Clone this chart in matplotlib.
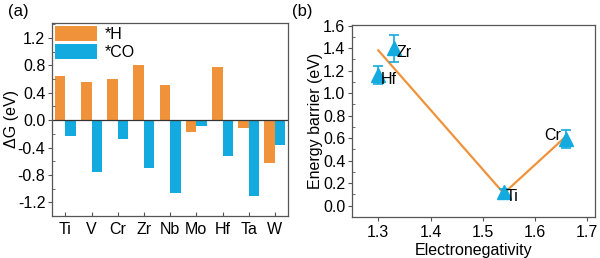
import matplotlib
matplotlib.use("Agg")
import matplotlib.pyplot as plt
from matplotlib.ticker import MultipleLocator
import numpy as np

plt.rcParams['font.family'] = ['Liberation Sans', 'DejaVu Sans']

# Panel (a) data
metals = ["Ti", "V", "Cr", "Zr", "Nb", "Mo", "Hf", "Ta", "W"]
dG_H = [0.65, 0.56, 0.60, 0.81, 0.52, -0.18, 0.77, -0.11, -0.62]
dG_CO = [-0.23, -0.76, -0.28, -0.70, -1.06, -0.09, -0.52, -1.11, -0.37]
yticks_a = [-1.2, -0.8, -0.4, 0.0, 0.4, 0.8, 1.2]

# Panel (b) data
en_names = ["Hf", "Zr", "Ti", "Cr"]
en_x = [1.30, 1.33, 1.54, 1.66]
barrier = [1.16, 1.40, 0.12, 0.59]
barrier_err = [0.08, 0.12, 0.03, 0.08]
fit_x = [1.30, 1.54, 1.66]
fit_y = [1.38, 0.11, 0.62]
xticks_b = [1.3, 1.4, 1.5, 1.6, 1.7]
yticks_b = [0.0, 0.2, 0.4, 0.6, 0.8, 1.0, 1.2, 1.4, 1.6]

ORANGE = '#F0923A'
BLUE = '#12AADF'
SPINE = '#555555'
FS = 11.5

fig = plt.figure(figsize=(6.0, 2.58), dpi=100)
axa = fig.add_axes([0.087, 0.163, 0.393, 0.748])
axb = fig.add_axes([0.587, 0.159, 0.405, 0.744])

x = np.arange(len(metals))
w = 0.4
axa.bar(x - w / 2, dG_H, w, color=ORANGE, label='*H')
axa.bar(x + w / 2, dG_CO, w, color=BLUE, label='*CO')
axa.axhline(0, color='#333333', lw=0.9)
axa.set_xlim(-0.5, 8.5)
axa.set_ylim(-1.40, 1.42)
axa.set_xticks(x)
axa.set_xticklabels(metals)
axa.set_yticks(yticks_a)
axa.set_yticklabels([f"{v:.1f}" for v in yticks_a])
axa.yaxis.set_minor_locator(MultipleLocator(0.2))
axa.set_ylabel('ΔG (eV)', fontsize=FS, labelpad=-1)
axa.tick_params(axis='x', direction='in', length=3, labelsize=FS, color=SPINE, pad=4)
axa.tick_params(axis='y', direction='out', length=3, labelsize=FS, color=SPINE, pad=2)
axa.tick_params(axis='y', which='minor', direction='in', length=2, color=SPINE)
leg = axa.legend(loc='upper left', bbox_to_anchor=(0.012, 0.985), frameon=False,
                 fontsize=FS, handlelength=2.6, handleheight=1.1, borderpad=0,
                 borderaxespad=0, labelspacing=0.1, handletextpad=0.5)
for s in axa.spines.values():
    s.set_color(SPINE)
    s.set_linewidth(0.9)

# Panel (b)
axb.plot(fit_x, fit_y, color=ORANGE, lw=1.6, zorder=2)
axb.errorbar(en_x, barrier, yerr=barrier_err, fmt='^', color=BLUE, ms=10,
             capsize=3.5, elinewidth=1.2, capthick=1.2, zorder=3)
offsets = {"Hf": (0.004, -0.04, 'left'), "Zr": (0.004, -0.04, 'left'),
           "Ti": (0.004, -0.04, 'left'), "Cr": (-0.01, 0.03, 'right')}
for n, xx, yy in zip(en_names, en_x, barrier):
    dx, dy, ha = offsets[n]
    axb.text(xx + dx, yy + dy, n, fontsize=FS, ha=ha, va='center', zorder=4)
axb.set_xlim(1.25, 1.715)
axb.set_ylim(-0.1, 1.605)
axb.set_xticks(xticks_b)
axb.set_xticklabels([f"{v:.1f}" for v in xticks_b])
axb.set_yticks(yticks_b)
axb.set_yticklabels([f"{v:.1f}" for v in yticks_b])
axb.yaxis.set_minor_locator(MultipleLocator(0.1))
axb.set_xlabel('Electronegativity', fontsize=FS, labelpad=2)
axb.set_ylabel('Energy barrier (eV)', fontsize=FS, labelpad=0)
axb.tick_params(axis='x', direction='out', length=3, labelsize=FS, color=SPINE, pad=3)
axb.tick_params(axis='y', direction='out', length=3, labelsize=FS, color=SPINE, pad=2)
axb.tick_params(axis='y', which='minor', direction='in', length=2, color=SPINE)
for s in axb.spines.values():
    s.set_color(SPINE)
    s.set_linewidth(0.9)

fig.text(0.013, 0.955, '(a)', fontsize=FS + 0.5, va='center')
fig.text(0.487, 0.955, '(b)', fontsize=FS + 0.5, va='center')

fig.savefig('out.png', dpi=100)
